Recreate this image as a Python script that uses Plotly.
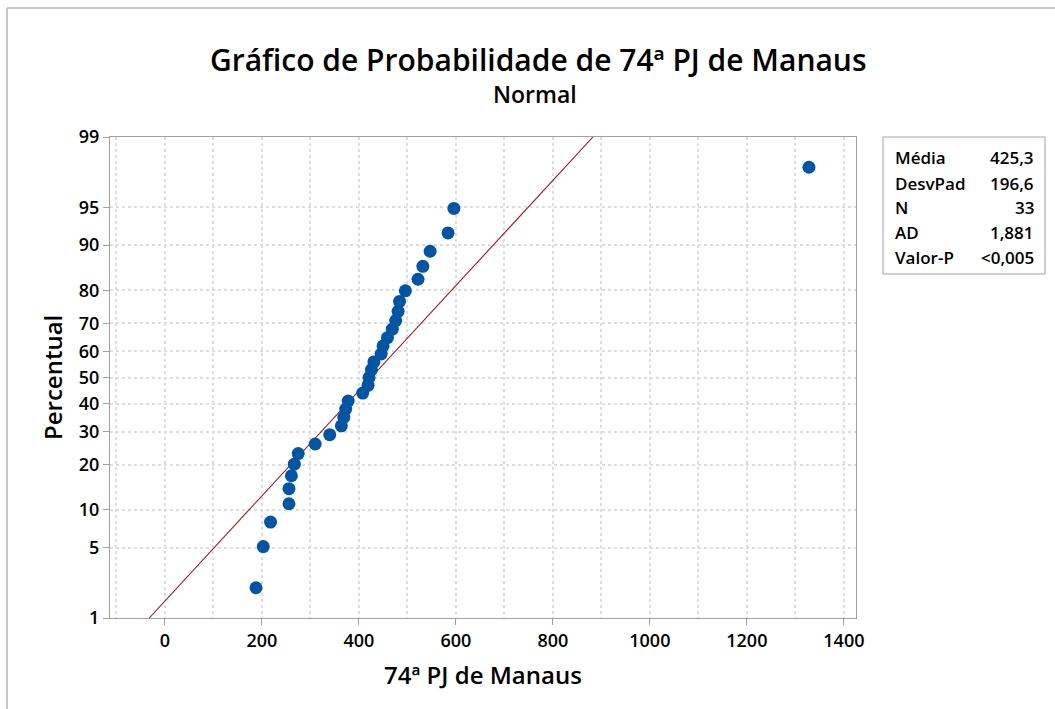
from statistics import NormalDist
import plotly.graph_objects as go

# Valores ordenados e percentuais de plotagem
valores = [188, 203, 218, 256, 256, 261, 267, 275, 310, 340,
           364, 369, 373, 378, 408, 419, 421, 426, 431, 446,
           450, 459, 469, 476, 481, 484, 496, 522, 532, 547,
           584, 596, 1328]
percentuais = [2.1, 5.1, 8.1, 11.1, 14.1, 17.1, 20.1, 23.1, 26.0, 29.0,
               32.0, 35.0, 38.0, 41.0, 44.0, 47.0, 50.0, 53.0, 56.0, 59.0,
               62.0, 65.0, 68.0, 70.9, 73.9, 76.9, 79.9, 82.9, 85.9, 88.9,
               91.9, 94.9, 97.9]
media = 425.3
desvpad = 196.6
ticks_pct = [1, 5, 10, 20, 30, 40, 50, 60, 70, 80, 90, 95, 99]
stats_nomes = ['Média', 'DesvPad', 'N', 'AD', 'Valor-P']
stats_valores = ['425,3', '196,6', '33', '1,881', '<0,005']

nd = NormalDist()
def z(p):
    return nd.inv_cdf(p / 100.0)

FONT = 'Open Sans'
W, H = 1055, 709
L, R, T, B = 110, 856, 137, 618   # area do gráfico em pixels
def px(xp):
    return (xp - L) / (R - L)
def py(yp):
    return (B - yp) / (B - T)

fig = go.Figure()
# reta ajustada (1% a 99%)
fig.add_trace(go.Scatter(
    x=[media + z(1) * desvpad, media + z(99) * desvpad],
    y=[z(1), z(99)], mode='lines',
    line=dict(color='#a8161c', width=1.1), hoverinfo='skip'))
fig.add_trace(go.Scatter(
    x=valores, y=[z(p) for p in percentuais], mode='markers',
    marker=dict(color='#0055a5', size=13), cliponaxis=False))

grid = dict(griddash='dot', gridcolor='#dddddd', gridwidth=1.5)
tickfont = dict(family=FONT, size=18, color='black', weight=600)
fig.update_xaxes(range=[-113, 1425], tickvals=list(range(0, 1401, 200)),
                 showgrid=True, **grid,
                 minor=dict(dtick=100, tick0=0, showgrid=True, griddash='dot',
                            gridcolor='#dddddd', gridwidth=1.5, ticklen=0),
                 showline=True, mirror=True, linecolor='#a0a0a0', linewidth=1,
                 ticks='outside', ticklen=6, tickcolor='#a0a0a0',
                 tickfont=tickfont, zeroline=False)
fig.update_yaxes(range=[z(1), z(99)], tickvals=[z(p) for p in ticks_pct],
                 ticktext=[str(p) for p in ticks_pct],
                 showgrid=True, **grid,
                 showline=True, mirror=True, linecolor='#a0a0a0', linewidth=1,
                 ticks='outside', ticklen=6, tickcolor='#a0a0a0',
                 tickfont=tickfont, zeroline=False)

ann = []
ann.append(dict(text='Gráfico de Probabilidade de 74ª PJ de Manaus',
                x=px(538), y=py(59), font=dict(size=30, weight=600)))
ann.append(dict(text='Normal', x=px(535), y=py(94), font=dict(size=23, weight=600)))
ann.append(dict(text='74ª PJ de Manaus', x=px(483), y=py(674), font=dict(size=24, weight=600)))
ann.append(dict(text='Percentual', x=px(52), y=py(378), textangle=-90,
                font=dict(size=24, weight=600)))
rows = [157.5, 183, 207.5, 232.5, 257]
for nome, val, yy in zip(stats_nomes, stats_valores, rows):
    ann.append(dict(text=nome, x=px(893), y=py(yy), xanchor='left',
                    font=dict(size=17, weight=600)))
    ann.append(dict(text=val, x=px(1036), y=py(yy), xanchor='right',
                    font=dict(size=17, weight=600)))
for a in ann:
    a.setdefault('xanchor', 'center')
    a.update(xref='paper', yref='paper', yanchor='middle', showarrow=False)
    a['font'].update(family=FONT, color='black')

shapes = [
    dict(type='rect', xref='paper', yref='paper', x0=px(883), x1=px(1045),
         y0=py(137), y1=py(274), line=dict(color='#a0a0a0', width=1)),
    dict(type='line', xref='paper', yref='paper', x0=px(7), x1=px(1060),
         y0=py(8), y1=py(8), line=dict(color='#c8c8c8', width=2)),
    dict(type='line', xref='paper', yref='paper', x0=px(7), x1=px(7),
         y0=py(8), y1=py(715), line=dict(color='#c8c8c8', width=2)),
]

fig.update_layout(width=W, height=H, showlegend=False,
                  margin=dict(l=L, r=W - R, t=T, b=H - B),
                  plot_bgcolor='white', paper_bgcolor='white',
                  annotations=ann, shapes=shapes)

fig.write_html('out.html', config={'displayModeBar': False},
               post_script="document.body.style.margin='0';")
